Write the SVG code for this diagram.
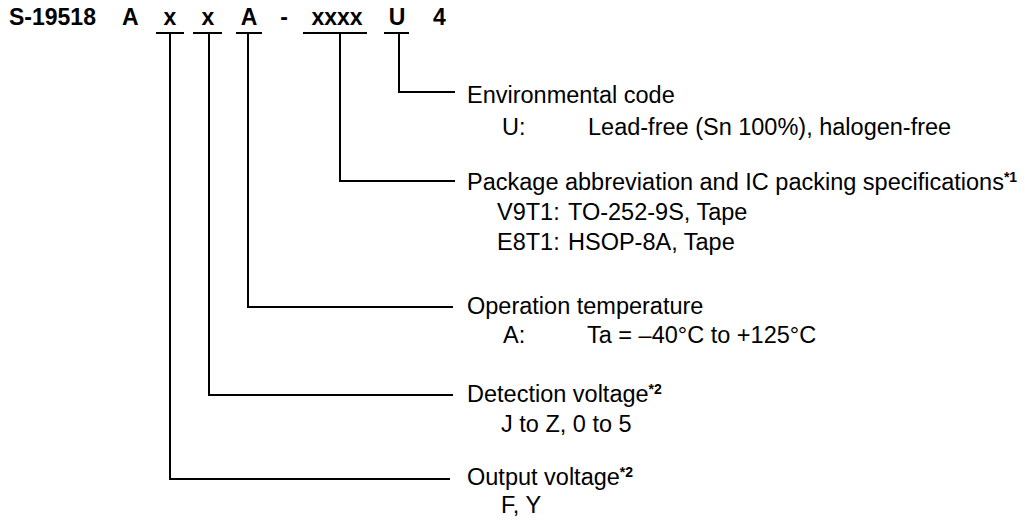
<svg xmlns="http://www.w3.org/2000/svg" width="1029" height="522" viewBox="0 0 1029 522">
<style>
text{font-family:"Liberation Sans",Arial,sans-serif;fill:#000;font-size:23.5px}
.h{font-weight:bold;font-size:23px}
.sup{font-weight:bold;font-size:14px}
.ln{fill:none;stroke:#000;stroke-width:2}
</style>
<rect width="1029" height="522" fill="#fff"/>
<g id="heading">
<text class="h" x="9" y="25">S-19518</text>
<text class="h" x="122" y="25">A</text>
<text class="h" x="170" y="25" text-anchor="middle">x</text>
<text class="h" x="208" y="25" text-anchor="middle">x</text>
<text class="h" x="249" y="25" text-anchor="middle">A</text>
<text class="h" x="284" y="25" text-anchor="middle">-</text>
<text class="h" x="337" y="25" text-anchor="middle">xxxx</text>
<text class="h" x="397" y="25" text-anchor="middle">U</text>
<text class="h" x="433" y="25">4</text>
</g>
<g id="connectors">
<path class="ln" d="M156 33H184M193 33H222M236 33H262M303 33H367M384 33H409"/>
<path class="ln" d="M399 33V92H455"/>
<path class="ln" d="M340 33V181H455"/>
<path class="ln" d="M248 33V307H453"/>
<path class="ln" d="M209 33V395H453"/>
<path class="ln" d="M170 33V479H450"/>
</g>
<g id="env">
<text x="467" y="103">Environmental code</text>
<text x="502" y="135">U:</text>
<text x="588" y="135">Lead-free (Sn 100%), halogen-free</text>
</g>
<g id="package">
<text x="467" y="190">Package abbreviation and IC packing specifications<tspan class="sup" dy="-8">*1</tspan></text>
<text x="497" y="220">V9T1:</text>
<text x="568" y="220">TO-252-9S, Tape</text>
<text x="497" y="250">E8T1:</text>
<text x="568" y="250">HSOP-8A, Tape</text>
</g>
<g id="temp">
<text x="467" y="314">Operation temperature</text>
<text x="503" y="343">A:</text>
<text x="587" y="343">Ta = –40°C to +125°C</text>
</g>
<g id="detect">
<text x="467" y="402">Detection voltage<tspan class="sup" dy="-8">*2</tspan></text>
<text x="501" y="432">J to Z, 0 to 5</text>
</g>
<g id="output">
<text x="467" y="485">Output voltage<tspan class="sup" dy="-8">*2</tspan></text>
<text x="501" y="513">F, Y</text>
</g>
</svg>
